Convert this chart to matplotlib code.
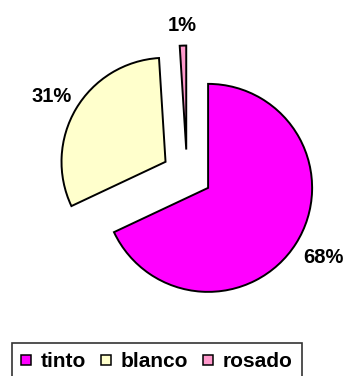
import matplotlib
matplotlib.use("Agg")
import matplotlib.pyplot as plt
from matplotlib.lines import Line2D

# Wine consumption by type
categories = ["tinto", "blanco", "rosado"]
values = [68, 31, 1]
colors = ["#FF00FF", "#FFFFCC", "#FF99CC"]

plt.rcParams["font.family"] = ["Liberation Sans", "DejaVu Sans"]
plt.rcParams["font.weight"] = "bold"

fig = plt.figure(figsize=(3.47, 3.76), dpi=100)
ax = fig.add_axes([0, 0, 1, 1])

wedges, texts, autotexts = ax.pie(
    values,
    colors=colors,
    explode=[0.24] * len(values),
    startangle=90,
    counterclock=False,
    autopct="%1.0f%%",
    pctdistance=1.25,
    wedgeprops=dict(edgecolor="black", linewidth=1.4),
    textprops=dict(fontsize=14.5, fontweight="bold", color="black"),
)

# small nudges of the percentage labels
nudges = [(0.05, 0.0), (-0.02, -0.01), (0.0, -0.06)]
for t, (dx, dy) in zip(autotexts, nudges):
    x, y = t.get_position()
    t.set_position((x + dx, y + dy))

ax.set_xlim(-1.798, 1.538)
ax.set_ylim(-1.9375, 1.678)
ax.set_aspect("auto")
ax.axis("off")

handles = [
    Line2D([], [], marker="s", linestyle="none", markersize=7.5,
           markerfacecolor=c, markeredgecolor="black", markeredgewidth=1.1)
    for c in colors
]
leg = fig.legend(
    handles, categories,
    loc="upper left",
    bbox_to_anchor=(11.5 / 347, 1 - 343 / 376),
    ncol=3,
    frameon=True,
    fancybox=False,
    handlelength=0.5,
    handletextpad=0.45,
    columnspacing=0.7,
    borderpad=0.45,
    borderaxespad=0,
    prop=dict(weight="bold", size=15),
)
leg.get_frame().set_edgecolor("black")
leg.get_frame().set_linewidth(1.2)

fig.savefig("out.png", dpi=100)
